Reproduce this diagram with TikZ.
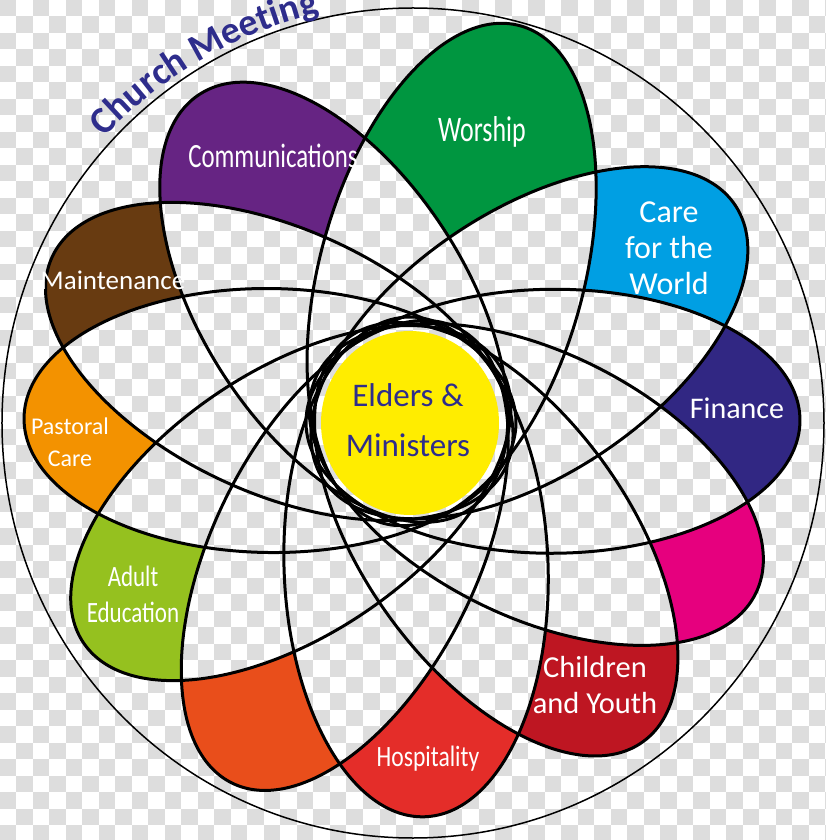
\documentclass[tikz,border=0pt]{standalone}
\usepackage{fontspec}
\setmainfont{Carlito}
\usepackage{graphicx}
\usetikzlibrary{decorations.text, shapes.geometric}

\definecolor{checkgrey}{RGB}{221,221,221}
\definecolor{cworship}{RGB}{0,150,64}
\definecolor{ccare}{RGB}{0,159,227}
\definecolor{cfinance}{RGB}{49,39,131}
\definecolor{cmagenta}{RGB}{230,0,126}
\definecolor{cyouth}{RGB}{190,22,34}
\definecolor{chosp}{RGB}{228,45,41}
\definecolor{cflame}{RGB}{233,78,27}
\definecolor{cadult}{RGB}{149,193,31}
\definecolor{cpastoral}{RGB}{243,146,0}
\definecolor{cmaint}{RGB}{104,59,17}
\definecolor{ccomm}{RGB}{102,36,131}
\definecolor{cyellow}{RGB}{255,237,0}
\definecolor{textblue}{RGB}{46,45,140}

\tikzset{
  petalline/.style={line width=3pt, draw=black},
  tiplabel/.style={text=white, align=center, inner sep=0pt, anchor=base},
  coredisc/.style={ellipse, fill=cyellow, minimum width=178pt, minimum height=184pt, inner sep=0pt},
  coretext/.style={text=textblue, align=center, inner sep=0pt, anchor=base,
    font=\fontsize{33}{50}\selectfont}
}
\newcommand{\squeezed}[2][0.75]{\scalebox{#1}[1]{#2}}

% petals: direction, reach of the outer tip; the inner end stays 105 behind the hub
\def\petalangles{{74.6,33.8,0.3,-26.5,-54,-88,-116.4,-146,179.4,155.3,122.8}}
\def\petalreach{{411,390,389,385,395,395,403,395,387,395,390}}
\def\pb{132}
\newcommand{\petalsetup}[1]{%
  \pgfmathsetmacro\ang{\petalangles[#1]}%
  \pgfmathsetmacro\reach{\petalreach[#1]}%
  \pgfmathsetmacro\pa{(\reach+105)/2}%
  \pgfmathsetmacro\pd{(\reach-105)/2}}

\begin{document}
\begin{tikzpicture}[x=1pt, y=1pt]
  \useasboundingbox (-413,-417) rectangle (413,423);

  % checkerboard background
  \fill[white] (-413,-417) rectangle (413,423);
  \foreach \i in {0,...,50}
    \foreach \j in {0,...,25} {
      \pgfmathtruncatemacro\jj{2*\j+mod(\i,2)}
      \fill[checkgrey] ({16.5*\i-413},{423-16.5*\jj}) rectangle ++(16.5,-16.5);
    }

  % outer circle
  \draw[line width=1.5pt] (0,0) circle [x radius=411, y radius=415];

  \coordinate (hub) at (-2,1);

  % coloured tips: each petal minus all the other petals
  \foreach \k/\col in {0/cworship,1/ccare,2/cfinance,3/cmagenta,4/cyouth,5/chosp,
                       6/cflame,7/cadult,8/cpastoral,9/cmaint,10/ccomm} {
    \begin{scope}[even odd rule]
      \foreach \j in {0,...,10} {
        \ifnum\j=\k\else
          \petalsetup{\j}
          \clip (-440,-440) rectangle (440,440)
            ([shift={(\ang:\pd)}]hub) ellipse [x radius=\pa, y radius=\pb, rotate=\ang];
        \fi
      }
      \petalsetup{\k}
      \fill[\col] ([shift={(\ang:\pd)}]hub) ellipse [x radius=\pa, y radius=\pb, rotate=\ang];
    \end{scope}
  }

  % petal outlines
  \foreach \k in {0,...,10} {
    \petalsetup{\k}
    \draw[petalline] ([shift={(\ang:\pd)}]hub) ellipse [x radius=\pa, y radius=\pb, rotate=\ang];
  }

  % centre
  \node[coredisc] (core) at (-3,0) {};
  \node[coretext] (elders) at (-5,-34) {Elders \&\\Ministers};

  % labels
  \node[tiplabel, font=\fontsize{36}{40}\selectfont] (worship) at (69,281) {\squeezed[0.72]{Worship}};
  \node[tiplabel, font=\fontsize{32}{36}\selectfont] (care) at (256,128) {Care\\for the\\World};
  \node[tiplabel, font=\fontsize{30}{36}\selectfont] (finance) at (324,4) {Finance};
  \node[tiplabel, font=\fontsize{30.5}{36}\selectfont] (youth) at (182,-290) {Children\\and Youth};
  \node[tiplabel, font=\fontsize{29.5}{36}\selectfont] (hosp) at (15,-343) {\squeezed[0.8]{Hospitality}};
  \node[tiplabel, font=\fontsize{29.5}{36}\selectfont] (adult) at (-280,-199) {\squeezed[0.78]{Adult}\\\squeezed[0.78]{Education}};
  \node[tiplabel, font=\fontsize{24}{32}\selectfont] (pastoral) at (-343,-44) {Pastoral\\Care};
  \node[tiplabel, font=\fontsize{27}{32}\selectfont] (maint) at (-300,133) {Maintenance};
  \node[tiplabel, font=\fontsize{34}{40}\selectfont] (comm) at (-140,255) {\squeezed[0.73]{Communications}};

  % title on the rim
  \path[decorate, decoration={text along path, text align=center,
      text={|\fontsize{38}{38}\selectfont\bfseries\color{textblue}|Church Meeting}}]
    (150:420) arc [start angle=150, end angle=90, radius=420];
\end{tikzpicture}
\end{document}
